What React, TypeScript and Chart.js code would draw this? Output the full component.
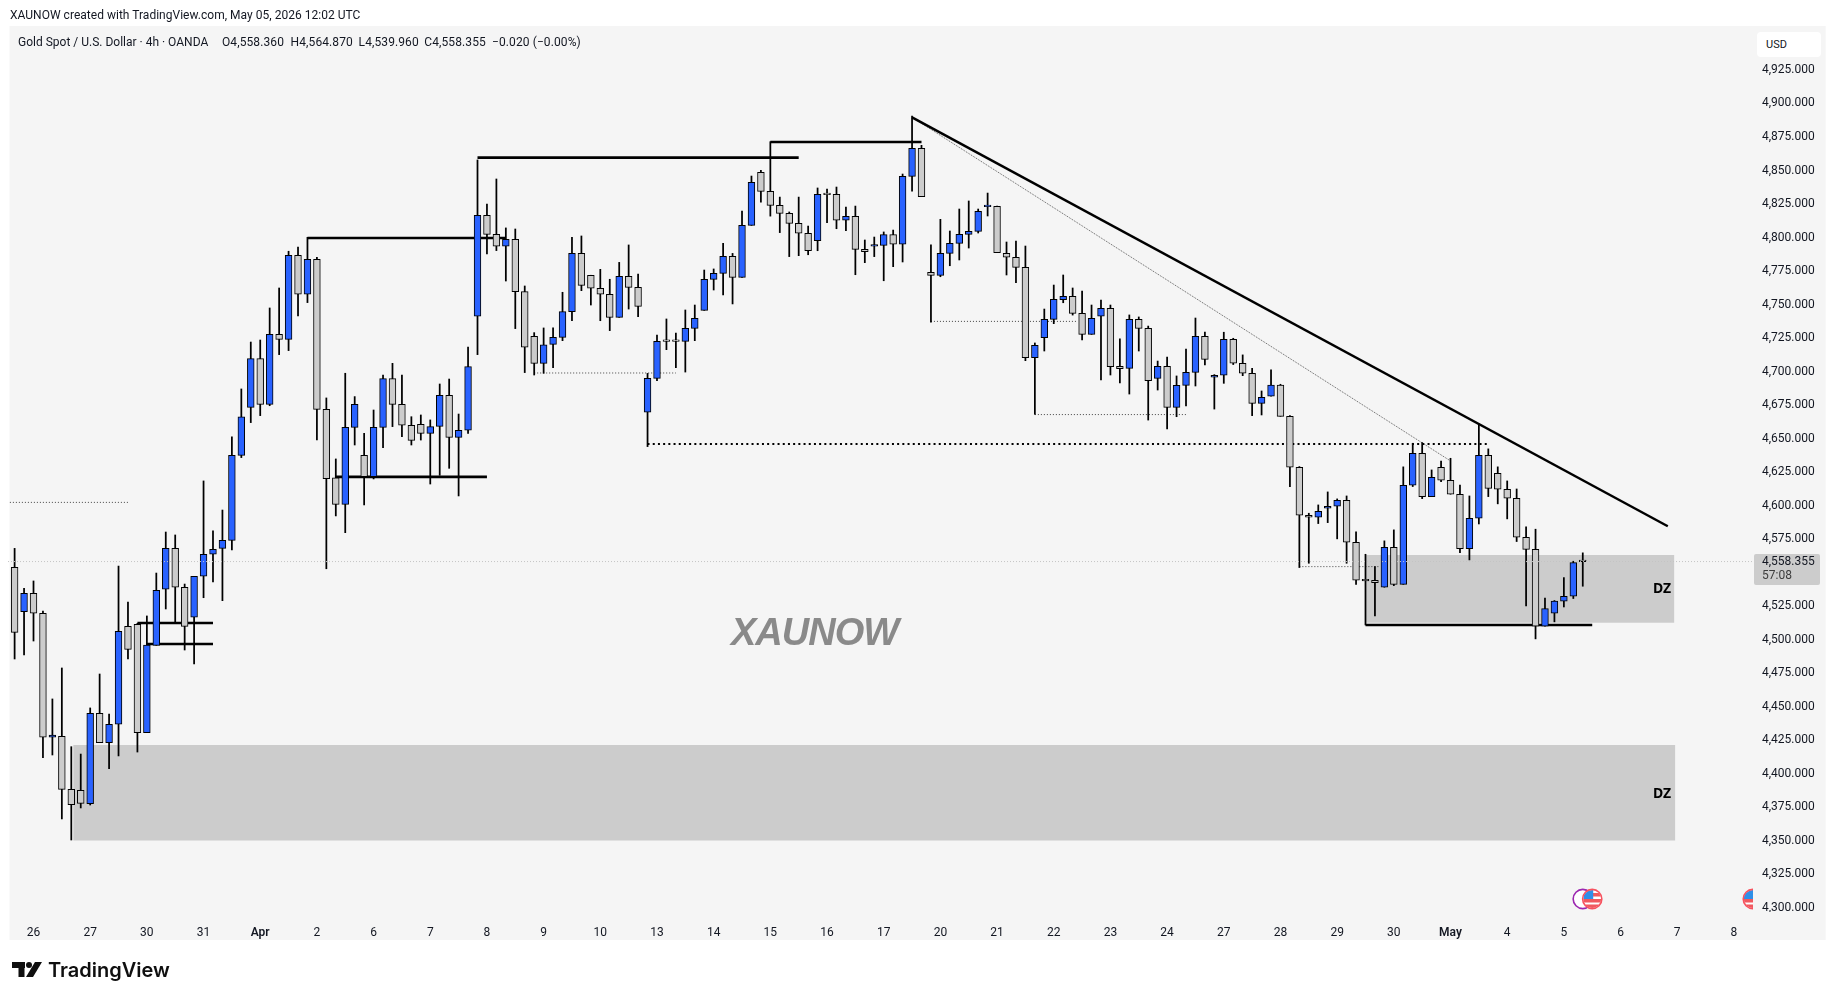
import { useEffect, useRef } from "react";
import { Chart, registerables } from "chart.js";
import type { Plugin } from "chart.js";

Chart.register(...registerables);

// OHLC, one entry per bar
const opens = [
  4554.1, 4521.0, 4534.7, 4519.8, 4427.3, 4428.0, 4388.5, 4387.8, 4377.8, 4445.2,
  4423.3, 4437.0, 4510.0, 4511.6, 4430.8, 4495.9, 4537.7, 4568.2, 4539.2, 4516.8,
  4547.4, 4563.8, 4568.2, 4574.2, 4637.6, 4673.4, 4709.7, 4675.6, 4727.9, 4724.1,
  4786.8, 4757.7, 4783.8, 4671.9, 4620.9, 4601.0, 4658.5, 4637.6, 4621.7, 4658.5,
  4694.8, 4675.6, 4660.0, 4660.7, 4654.0, 4659.2, 4682.4, 4651.0, 4656.3, 4741.3,
  4816.6, 4802.4, 4793.5, 4798.7, 4759.7, 4726.4, 4706.2, 4720.4, 4725.6, 4744.8,
  4788.3, 4771.9, 4762.2, 4757.7, 4740.5, 4771.1, 4762.9, 4669.7, 4695.0, 4722.6,
  4722.6, 4722.6, 4732.3, 4745.7, 4768.8, 4773.3, 4786.0, 4770.3, 4809.1, 4848.7,
  4834.5, 4824.0, 4818.1, 4810.6, 4803.2, 4797.7, 4832.2, 4832.2, 4812.9, 4815.8,
  4791.2, 4793.5, 4794.2, 4802.2, 4795.0, 4845.7, 4866.6, 4774.1, 4771.8, 4788.2,
  4795.7, 4802.4, 4804.6, 4823.0, 4823.3, 4788.2, 4785.3, 4777.8, 4710.4, 4725.3,
  4739.0, 4753.7, 4756.2, 4743.5, 4727.8, 4741.3, 4747.2, 4704.0, 4702.5, 4739.0,
  4732.3, 4695.0, 4704.0, 4673.4, 4689.8, 4699.5, 4726.3, 4695.8, 4697.3, 4724.2,
  4706.3, 4698.8, 4676.4, 4681.7, 4689.9, 4666.7, 4628.7, 4592.9, 4591.4, 4598.1,
  4599.6, 4604.1, 4572.8, 4544.4, 4544.4, 4539.2, 4569.0, 4541.4, 4615.3, 4639.1,
  4606.8, 4628.7, 4619.0, 4608.6, 4568.0, 4590.7, 4637.6, 4624.2, 4612.3, 4605.6,
  4576.5, 4567.5, 4510.1, 4519.8, 4528.8, 4532.5, 4558.36,
];
const highs = [
  4568.2, 4538.4, 4543.9, 4521.5, 4455.9, 4479.0, 4420.3, 4414.8, 4449.2, 4474.5,
  4444.7, 4555.0, 4528.2, 4512.3, 4517.8, 4549.8, 4580.4, 4578.2, 4541.6, 4547.4,
  4618.5, 4581.2, 4596.8, 4651.3, 4687.1, 4722.1, 4723.6, 4747.5, 4762.4, 4789.8,
  4793.0, 4800.2, 4785.3, 4680.4, 4634.9, 4698.8, 4681.4, 4654.0, 4671.4, 4697.5,
  4706.2, 4697.5, 4666.4, 4667.7, 4664.0, 4690.8, 4694.5, 4668.4, 4718.4, 4857.9,
  4825.0, 4843.7, 4807.2, 4806.4, 4763.9, 4729.1, 4732.6, 4732.6, 4759.2, 4800.2,
  4801.2, 4771.9, 4776.3, 4768.9, 4781.5, 4794.5, 4772.8, 4698.7, 4727.3, 4739.3,
  4728.8, 4746.0, 4749.7, 4775.8, 4776.6, 4795.7, 4788.2, 4819.8, 4845.9, 4850.1,
  4871.5, 4830.2, 4819.1, 4830.2, 4808.6, 4837.0, 4836.2, 4837.7, 4822.8, 4823.5,
  4798.2, 4800.4, 4804.2, 4805.6, 4847.4, 4890.7, 4868.8, 4794.5, 4813.6, 4804.9,
  4821.3, 4827.3, 4821.3, 4833.2, 4823.5, 4796.7, 4797.4, 4793.7, 4721.4, 4746.7,
  4764.6, 4772.1, 4762.4, 4760.1, 4749.7, 4753.4, 4749.7, 4724.4, 4742.3, 4740.8,
  4734.0, 4707.9, 4710.9, 4696.8, 4716.9, 4740.0, 4729.6, 4697.8, 4729.4, 4724.9,
  4712.5, 4702.5, 4685.6, 4701.3, 4690.6, 4667.2, 4629.2, 4594.4, 4600.6, 4610.3,
  4605.1, 4607.3, 4580.5, 4563.8, 4554.6, 4573.8, 4582.0, 4629.0, 4646.6, 4647.1,
  4626.7, 4633.4, 4635.4, 4615.5, 4607.3, 4661.0, 4642.4, 4629.0, 4618.5, 4612.5,
  4584.2, 4582.5, 4531.2, 4529.3, 4546.4, 4558.6, 4564.87,
];
const lows = [
  4485.7, 4488.7, 4499.1, 4412.1, 4414.1, 4366.4, 4350.7, 4374.6, 4376.8, 4423.3,
  4403.9, 4413.4, 4485.7, 4416.3, 4430.8, 4495.9, 4523.0, 4512.3, 4492.4, 4482.0,
  4531.4, 4543.1, 4529.2, 4567.0, 4635.9, 4662.0, 4667.2, 4674.6, 4712.7, 4715.7,
  4741.5, 4751.5, 4649.0, 4553.0, 4592.4, 4579.9, 4645.3, 4600.6, 4620.0, 4643.3,
  4659.0, 4651.5, 4645.3, 4649.0, 4616.2, 4622.7, 4627.9, 4607.3, 4654.0, 4712.7,
  4787.8, 4790.3, 4767.6, 4732.1, 4699.3, 4697.5, 4698.8, 4703.0, 4723.1, 4738.0,
  4760.4, 4749.7, 4738.0, 4730.6, 4740.5, 4746.7, 4741.0, 4644.1, 4693.3, 4716.4,
  4703.0, 4699.7, 4723.1, 4745.7, 4760.9, 4757.2, 4750.5, 4770.3, 4809.1, 4826.5,
  4816.0, 4803.7, 4785.8, 4786.5, 4787.2, 4790.2, 4811.1, 4806.6, 4805.1, 4772.3,
  4781.3, 4785.8, 4767.8, 4778.3, 4781.8, 4834.7, 4830.5, 4737.0, 4770.8, 4779.0,
  4783.3, 4792.2, 4803.4, 4816.1, 4788.7, 4772.1, 4766.4, 4708.2, 4668.2, 4715.4,
  4735.8, 4751.4, 4742.2, 4723.6, 4727.8, 4693.8, 4697.5, 4691.6, 4683.3, 4715.4,
  4663.9, 4686.3, 4657.2, 4666.4, 4674.4, 4689.3, 4705.0, 4672.1, 4691.3, 4705.3,
  4697.0, 4667.2, 4667.7, 4681.7, 4666.7, 4614.3, 4553.9, 4557.1, 4586.7, 4587.4,
  4575.3, 4557.1, 4541.4, 4511.1, 4517.8, 4539.2, 4540.4, 4541.4, 4614.3, 4605.3,
  4606.8, 4618.0, 4608.6, 4565.0, 4559.6, 4586.4, 4606.8, 4601.4, 4590.2, 4573.3,
  4525.3, 4500.7, 4510.1, 4513.4, 4524.5, 4530.8, 4539.96,
];
const closes = [
  4505.6, 4534.7, 4519.8, 4427.3, 4429.0, 4388.5, 4377.1, 4378.0, 4445.2, 4423.3,
  4437.0, 4506.3, 4492.9, 4430.8, 4496.1, 4536.9, 4568.2, 4539.2, 4510.0, 4547.4,
  4563.8, 4567.5, 4574.2, 4637.6, 4666.4, 4709.7, 4675.6, 4727.9, 4724.1, 4786.8,
  4757.7, 4783.8, 4671.9, 4620.2, 4601.0, 4658.5, 4675.6, 4621.7, 4658.5, 4694.8,
  4675.6, 4660.0, 4648.8, 4654.0, 4659.0, 4682.4, 4651.0, 4656.3, 4703.7, 4816.6,
  4802.4, 4793.5, 4798.7, 4759.7, 4718.2, 4706.2, 4720.1, 4725.6, 4744.8, 4788.3,
  4764.4, 4762.2, 4757.7, 4740.5, 4771.1, 4762.9, 4748.7, 4695.0, 4722.6, 4722.6,
  4722.6, 4732.3, 4739.8, 4768.8, 4773.3, 4786.0, 4770.3, 4809.1, 4841.2, 4834.5,
  4824.0, 4818.1, 4810.6, 4803.2, 4790.2, 4832.2, 4832.0, 4812.9, 4815.8, 4791.2,
  4789.5, 4794.2, 4802.2, 4795.0, 4845.7, 4866.6, 4830.5, 4771.8, 4788.2, 4795.7,
  4802.4, 4804.6, 4819.6, 4824.0, 4788.7, 4785.3, 4777.8, 4710.4, 4719.6, 4739.0,
  4753.9, 4756.2, 4743.5, 4727.8, 4739.8, 4747.2, 4703.7, 4702.2, 4739.0, 4732.3,
  4693.3, 4704.0, 4673.4, 4689.8, 4699.5, 4726.3, 4709.2, 4697.3, 4724.2, 4706.3,
  4698.8, 4676.4, 4680.9, 4689.9, 4666.7, 4628.7, 4592.9, 4591.4, 4595.9, 4599.6,
  4604.1, 4572.8, 4544.4, 4544.0, 4542.7, 4569.0, 4541.4, 4615.3, 4639.1, 4606.8,
  4621.2, 4619.0, 4608.6, 4568.0, 4590.7, 4637.6, 4613.0, 4612.3, 4605.6, 4576.5,
  4567.5, 4510.1, 4523.3, 4528.8, 4532.5, 4557.6, 4558.355,
];

const dayLabels = [
  "26", "27", "30", "31", "Apr", "2", "6", "7", "8", "9", "10", "13", "14", "15", "16", "17",
  "20", "21", "22", "23", "24", "27", "28", "29", "30", "May", "4", "5", "6", "7", "8",
];
const priceTicks = [
  4300, 4325, 4350, 4375, 4400, 4425, 4450, 4475, 4500, 4525, 4550, 4575, 4600, 4625,
  4650, 4675, 4700, 4725, 4750, 4775, 4800, 4825, 4850, 4875, 4900, 4925,
];
const lastPrice = 4558.355;

// drawings: [from bar, to bar, price]
const solidLevels = [
  [13, 21, 4512.5],
  [14, 21, 4496.9],
  [31, 52, 4799.7],
  [34, 50, 4621.5],
  [49, 83, 4859.6],
  [80, 96, 4871.3],
  [143, 167, 4511.1],
];
const dottedLevels = [
  [-0.5, 12, 4602.5],
  [55, 70, 4699],
  [97, 112.5, 4737.5],
  [108, 124, 4668],
  [136, 144.5, 4554.6],
];
const heavyDottedLevels = [[67, 156, 4646]];
// [from bar, to bar, top, bottom]
const demandZones = [
  [6.2, 175.8, 4421.6, 4350.4],
  [143.05, 175.7, 4563.3, 4512.7],
];
// [bar, price, bar, price]
const trendLine = [95, 4889.7, 175, 4584.7];
const innerTrendLine = [95, 4889.7, 152, 4633.4];
// bars carrying an economic calendar marker
const eventBars = [
  { bar: 166, kind: "earnings" },
  { bar: 167, kind: "us" },
  { bar: 184, kind: "us" },
];
// header values, with the x where each starts
const headerValues: [string, number][] = [
  ["O4,558.360", 222],
  ["H4,564.870", 290.6],
  ["L4,539.960", 358.6],
  ["C4,558.355", 424.3],
  ["−0.020 (−0.00%)", 492],
];

const BLUE = "#2962ff";
const GREY = "#cccccc";
const PANE = "#f5f5f5";
const INK = "#131722";
const FONT = "Roboto, 'Noto Sans', sans-serif";

const xMin = -0.7;
const xMax = 184.02;

const levelData = (l: number[]) => [
  { x: l[0], y: l[2] },
  { x: l[1], y: l[2] },
];
const lineDefaults = { type: "line", pointRadius: 0, tension: 0, fill: false, parsing: true };

const paneBackground: Plugin = {
  id: "paneBackground",
  beforeDraw(chart) {
    const { ctx, width, height } = chart;
    ctx.save();
    ctx.fillStyle = "#ffffff";
    ctx.fillRect(0, 0, width, height);
    ctx.fillStyle = PANE;
    ctx.fillRect(9.5, 26, 1816.2, 914);
    ctx.restore();
  },
};

const drawUsFlag = (ctx: CanvasRenderingContext2D, x: number, y: number) => {
  ctx.save();
  ctx.beginPath();
  ctx.arc(x, y, 9, 0, Math.PI * 2);
  ctx.fillStyle = "#ffffff";
  ctx.fill();
  ctx.clip();
  ctx.fillStyle = "#f0595f";
  ctx.fillRect(x - 9, y - 6, 18, 3.5);
  ctx.fillRect(x - 9, y + 0, 18, 3.5);
  ctx.fillRect(x - 9, y + 5.5, 18, 4);
  ctx.fillStyle = "#2f8fe8";
  ctx.fillRect(x - 9, y - 9, 10, 9);
  ctx.restore();
};

const eventMarkers: Plugin = {
  id: "eventMarkers",
  afterDatasetsDraw(chart) {
    const { ctx, chartArea, scales } = chart;
    const y = 899;
    ctx.save();
    ctx.beginPath();
    ctx.rect(chartArea.left, chartArea.top, chartArea.width, chartArea.height);
    ctx.clip();
    eventBars.forEach(({ bar, kind }) => {
      const x = scales.x.getPixelForValue(bar);
      if (kind === "us") drawUsFlag(ctx, x, y);
      else {
        ctx.fillStyle = "#ffffff";
        ctx.beginPath();
        ctx.arc(x, y, 9.5, 0, Math.PI * 2);
        ctx.fill();
      }
      ctx.beginPath();
      ctx.arc(x, y, 9.6, 0, Math.PI * 2);
      ctx.lineWidth = 1.6;
      ctx.strokeStyle = kind === "us" ? "#f7525f" : "#9c27b0";
      ctx.stroke();
    });
    ctx.restore();
  },
  afterDraw(chart) {
    // the lowest price label is cut by the pane edge
    const { ctx, chartArea } = chart;
    ctx.save();
    ctx.fillStyle = PANE;
    ctx.fillRect(chartArea.right, chartArea.bottom, 71, 28);
    // TradingView mark
    ctx.fillStyle = "#0f0f0f";
    ctx.fillRect(12, 962, 13, 6);
    ctx.fillRect(18.5, 962, 6, 15);
    ctx.beginPath();
    ctx.arc(29, 965, 3, 0, Math.PI * 2);
    ctx.fill();
    ctx.beginPath();
    ctx.moveTo(35, 962);
    ctx.lineTo(42, 962);
    ctx.lineTo(33, 977);
    ctx.lineTo(26, 977);
    ctx.closePath();
    ctx.fill();
    ctx.restore();
  },
};

const textStyle = (left: number, top: number, size: number, extra = {}) => ({
  position: "absolute" as const,
  left,
  top,
  fontFamily: FONT,
  fontSize: size,
  lineHeight: "16px",
  color: INK,
  whiteSpace: "pre" as const,
  ...extra,
});

export default function App() {
  const canvasRef = useRef<HTMLCanvasElement>(null);

  useEffect(() => {
    if (!canvasRef.current) return;
    const bars = opens.map((_, i) => i);

    const chart = new Chart(canvasRef.current, {
      type: "bar",
      data: {
        datasets: [
          ...demandZones.map((z) => ({
            ...lineDefaults,
            data: [
              { x: z[0], y: z[2] },
              { x: z[1], y: z[2] },
            ],
            borderWidth: 0,
            backgroundColor: GREY,
            fill: { value: z[3] },
            order: 10,
          })),
          ...solidLevels.map((l) => ({
            ...lineDefaults,
            data: levelData(l),
            borderColor: "#000000",
            borderWidth: 2.6,
            order: 5,
          })),
          ...dottedLevels.map((l) => ({
            ...lineDefaults,
            data: levelData(l),
            borderColor: "#444444",
            borderWidth: 1,
            borderDash: [1, 2],
            order: 5,
          })),
          ...heavyDottedLevels.map((l) => ({
            ...lineDefaults,
            data: levelData(l),
            borderColor: "#000000",
            borderWidth: 2,
            borderDash: [2, 3.2],
            order: 5,
          })),
          {
            ...lineDefaults,
            data: [
              { x: innerTrendLine[0], y: innerTrendLine[1] },
              { x: innerTrendLine[2], y: innerTrendLine[3] },
            ],
            borderColor: "#5f5f5f",
            borderWidth: 1,
            borderDash: [1, 1],
            order: 5,
          },
          {
            type: "bar",
            data: bars.map((i) => ({ x: i, y: [lows[i], highs[i]] })),
            backgroundColor: "#000000",
            borderWidth: 0,
            barThickness: 1.1,
            grouped: false,
            order: 3,
          },
          {
            type: "bar",
            data: bars.map((i) => ({ x: i, y: [opens[i], closes[i]] })),
            backgroundColor: bars.map((i) => (closes[i] > opens[i] ? BLUE : GREY)),
            borderColor: "#000000",
            borderWidth: 1,
            borderSkipped: false,
            barThickness: 6.8,
            minBarLength: 1.6,
            grouped: false,
            order: 2,
          },
          {
            ...lineDefaults,
            data: [
              { x: trendLine[0], y: trendLine[1] },
              { x: trendLine[2], y: trendLine[3] },
            ],
            borderColor: "#000000",
            borderWidth: 2.5,
            order: 1,
          },
          {
            ...lineDefaults,
            data: [
              { x: xMin, y: lastPrice },
              { x: xMax, y: lastPrice },
            ],
            borderColor: "#c4c4c4",
            borderWidth: 1,
            borderDash: [1, 2],
            order: 0,
          },
        ] as any,
      },
      options: {
        responsive: false,
        animation: false,
        events: [],
        layout: { padding: { left: 8, top: 26, right: 11, bottom: 60 } },
        plugins: { legend: { display: false }, tooltip: { enabled: false } },
        scales: {
          x: {
            type: "linear",
            offset: false,
            min: xMin,
            max: xMax,
            grid: { display: false, offset: false },
            border: { display: false },
            afterFit: (s: any) => {
              s.height = 28;
              s.paddingLeft = 0;
              s.paddingRight = 0;
            },
            afterBuildTicks: (s: any) => {
              s.ticks = dayLabels.map((_, k) => ({ value: 2 + k * 6 }));
            },
            ticks: {
              autoSkip: false,
              maxRotation: 0,
              padding: 6,
              color: INK,
              font: (ctx: any) => ({
                family: FONT,
                size: 12,
                weight: ctx.index === 4 || ctx.index === 25 ? 600 : 400,
              }),
              callback: (v: any) => dayLabels[(Number(v) - 2) / 6],
            },
          },
          y: {
            type: "linear",
            position: "right",
            min: 4297,
            max: 4957.8,
            grid: { display: false, drawTicks: false },
            border: { display: false },
            afterFit: (s: any) => {
              s.width = 71;
              s.paddingTop = 0;
              s.paddingBottom = 0;
            },
            afterBuildTicks: (s: any) => {
              s.ticks = priceTicks.map((value) => ({ value }));
            },
            ticks: {
              autoSkip: false,
              padding: 9,
              color: INK,
              font: { family: FONT, size: 12 },
              callback: (v: any) =>
                Number(v).toLocaleString("en-US", {
                  minimumFractionDigits: 3,
                  maximumFractionDigits: 3,
                }),
            },
          },
        },
      },
      plugins: [paneBackground, eventMarkers],
    });

    return () => chart.destroy();
  }, []);

  return (
    <div style={{ position: "absolute", left: 0, top: 0, width: 1835, height: 1000, overflow: "hidden" }}>
      <canvas ref={canvasRef} width={1835} height={1000} style={{ display: "block" }} />
      <span style={textStyle(10, 7, 12, { letterSpacing: 0.02 })}>
        XAUNOW created with TradingView.com, May 05, 2026 12:02 UTC
      </span>
      <span style={textStyle(18, 34, 12)}>Gold Spot / U.S. Dollar · 4h · OANDA</span>
      {headerValues.map(([text, left]) => (
        <span key={text} style={textStyle(left, 34, 12, { letterSpacing: 0.1 })}>
          {text}
        </span>
      ))}
      <div
        style={textStyle(1757, 32, 11, {
          width: 55,
          height: 25,
          paddingLeft: 9,
          lineHeight: "25px",
          background: "#ffffff",
          borderRadius: 4,
        })}
      >
        USD
      </div>
      <div style={{ position: "absolute", left: 1754, top: 554, width: 66, height: 31, background: GREY, borderRadius: 2 }} />
      <span style={textStyle(1762, 553, 12)}>4,558.355</span>
      <span style={textStyle(1762, 567, 12, { color: "#3d3d3d" })}>57:08</span>
      <span style={textStyle(1653, 580, 14, { fontFamily: "'Noto Sans', sans-serif", fontWeight: 700, color: "#000" })}>DZ</span>
      <span style={textStyle(1653, 785, 14, { fontFamily: "'Noto Sans', sans-serif", fontWeight: 700, color: "#000" })}>DZ</span>
      <span
        style={textStyle(731, 610, 38, {
          fontFamily: "'Liberation Sans', sans-serif",
          fontWeight: 700,
          fontStyle: "italic",
          lineHeight: "44px",
          letterSpacing: -1,
          color: "#8a8a8a",
        })}
      >
        XAUNOW
      </span>
      <span style={textStyle(48, 957, 20, { fontFamily: "Inter, sans-serif", fontWeight: 600, lineHeight: "26px", color: "#0f0f0f" })}>
        TradingView
      </span>
    </div>
  );
}
